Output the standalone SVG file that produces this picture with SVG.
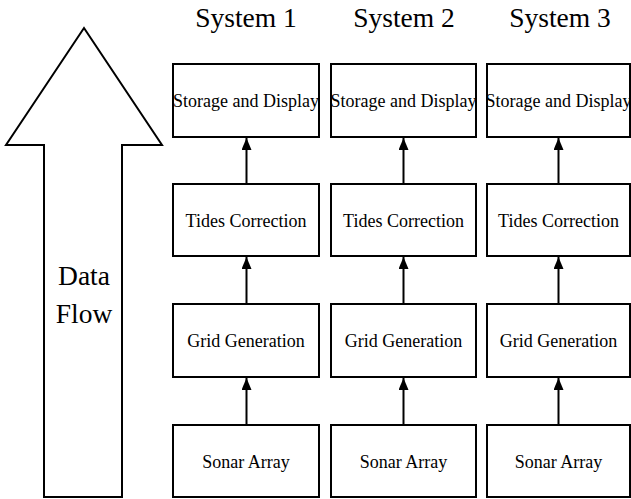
<svg xmlns="http://www.w3.org/2000/svg" width="631" height="499" viewBox="0 0 631 499">
  <style>
    .box { fill: #ffffff; stroke: #000000; stroke-width: 2; }
    .lbl { font-family: "Liberation Serif", "Times New Roman", serif; font-size: 18px; fill: #000000; text-anchor: middle; }
    .title { font-family: "Liberation Serif", "Times New Roman", serif; font-size: 27.5px; fill: #000000; text-anchor: middle; }
    .flow { fill: #ffffff; stroke: #000000; stroke-width: 2; stroke-linejoin: miter; }
    .conn { stroke: #000000; stroke-width: 2; fill: none; }
  </style>
  <defs>
    <marker id="head" viewBox="0 0 12 10" refX="12" refY="5" markerWidth="12" markerHeight="10" markerUnits="userSpaceOnUse" orient="auto">
      <path d="M0,0 L12,5 L0,10 Z" fill="#000000"/>
    </marker>
  </defs>
  <rect width="631" height="499" fill="#ffffff"/>

  <!-- large data-flow arrow -->
  <g id="data-flow">
    <path class="flow" d="M84,28 L162,145 L122,145 L122,497 L44,497 L44,145 L6,145 Z"/>
    <text class="title" x="84" y="285">Data</text>
    <text class="title" x="84" y="323">Flow</text>
  </g>

  <!-- column headings -->
  <g id="headings">
    <text class="title" x="246" y="27">System 1</text>
    <text class="title" x="404" y="27">System 2</text>
    <text class="title" x="560" y="27">System 3</text>
  </g>

  <!-- System 1 -->
  <g id="s1-storage"><rect class="box" x="173" y="64" width="146" height="73"/><text class="lbl" x="246" y="107">Storage and Display</text></g>
  <g id="s1-tides"><rect class="box" x="173" y="184" width="146" height="72"/><text class="lbl" x="246" y="227">Tides Correction</text></g>
  <g id="s1-grid"><rect class="box" x="173" y="304" width="146" height="73"/><text class="lbl" x="246" y="347">Grid Generation</text></g>
  <g id="s1-sonar"><rect class="box" x="173" y="425" width="146" height="72"/><text class="lbl" x="246" y="468">Sonar Array</text></g>

  <!-- System 2 -->
  <g id="s2-storage"><rect class="box" x="331" y="64" width="145" height="73"/><text class="lbl" x="403.5" y="107">Storage and Display</text></g>
  <g id="s2-tides"><rect class="box" x="331" y="184" width="145" height="72"/><text class="lbl" x="403.5" y="227">Tides Correction</text></g>
  <g id="s2-grid"><rect class="box" x="331" y="304" width="145" height="73"/><text class="lbl" x="403.5" y="347">Grid Generation</text></g>
  <g id="s2-sonar"><rect class="box" x="331" y="425" width="145" height="72"/><text class="lbl" x="403.5" y="468">Sonar Array</text></g>

  <!-- System 3 -->
  <g id="s3-storage"><rect class="box" x="487" y="64" width="143" height="73"/><text class="lbl" x="558.5" y="107">Storage and Display</text></g>
  <g id="s3-tides"><rect class="box" x="487" y="184" width="143" height="72"/><text class="lbl" x="558.5" y="227">Tides Correction</text></g>
  <g id="s3-grid"><rect class="box" x="487" y="304" width="143" height="73"/><text class="lbl" x="558.5" y="347">Grid Generation</text></g>
  <g id="s3-sonar"><rect class="box" x="487" y="425" width="143" height="72"/><text class="lbl" x="558.5" y="468">Sonar Array</text></g>

  <!-- connectors -->
  <g id="connectors">
    <line class="conn" x1="246.5" y1="184" x2="246.5" y2="138" marker-end="url(#head)"/>
    <line class="conn" x1="246.5" y1="304" x2="246.5" y2="257" marker-end="url(#head)"/>
    <line class="conn" x1="246.5" y1="425" x2="246.5" y2="378" marker-end="url(#head)"/>
    <line class="conn" x1="403.5" y1="184" x2="403.5" y2="138" marker-end="url(#head)"/>
    <line class="conn" x1="403.5" y1="304" x2="403.5" y2="257" marker-end="url(#head)"/>
    <line class="conn" x1="403.5" y1="425" x2="403.5" y2="378" marker-end="url(#head)"/>
    <line class="conn" x1="558.5" y1="184" x2="558.5" y2="138" marker-end="url(#head)"/>
    <line class="conn" x1="558.5" y1="304" x2="558.5" y2="257" marker-end="url(#head)"/>
    <line class="conn" x1="558.5" y1="425" x2="558.5" y2="378" marker-end="url(#head)"/>
  </g>
</svg>
